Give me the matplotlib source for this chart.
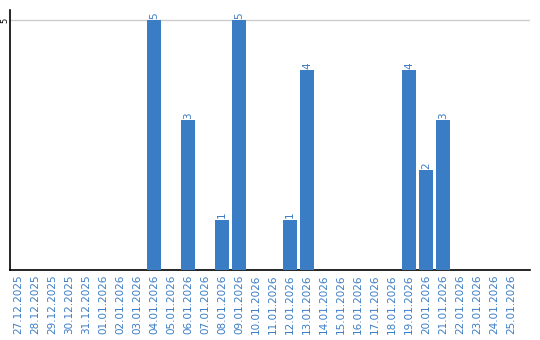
import matplotlib
matplotlib.use('Agg')
import matplotlib.pyplot as plt
import numpy as np

dates = ['27.12.2025', '28.12.2025', '29.12.2025', '30.12.2025', '31.12.2025',
         '01.01.2026', '02.01.2026', '03.01.2026', '04.01.2026', '05.01.2026',
         '06.01.2026', '07.01.2026', '08.01.2026', '09.01.2026', '10.01.2026',
         '11.01.2026', '12.01.2026', '13.01.2026', '14.01.2026', '15.01.2026',
         '16.01.2026', '17.01.2026', '18.01.2026', '19.01.2026', '20.01.2026',
         '21.01.2026', '22.01.2026', '23.01.2026', '24.01.2026', '25.01.2026']
counts = [0, 0, 0, 0, 0, 0, 0, 0, 5, 0, 3, 0, 1, 5, 0,
          0, 1, 4, 0, 0, 0, 0, 0, 4, 2, 3, 0, 0, 0, 0]

blue = '#3b7dc4'

fig = plt.figure(figsize=(5.4, 3.4), dpi=100)
ax = fig.add_axes([10 / 540, 70 / 340, 520 / 540, 260 / 340])

x = np.arange(len(dates))
ax.bar(x, counts, width=0.82, color=blue, zorder=3)

for xi, c in zip(x, counts):
    if c > 0:
        ax.text(xi, c + 0.03, str(c), rotation=90, ha='center', va='bottom',
                fontsize=7.5, color=blue)

ax.set_xlim(-0.47, 30.12)
ax.set_ylim(0, 5.2)
ax.set_xticks(x)
ax.set_xticklabels(dates, rotation=90, fontsize=7.5, color=blue)
ax.set_yticks([5])
ax.set_yticklabels(['5'], rotation=90, fontsize=6, va='center')
ax.tick_params(axis='both', length=0, pad=3)
ax.tick_params(axis='y', pad=0.5)
ax.grid(axis='y', color='#cccccc', linewidth=1, zorder=0)
ax.spines['top'].set_visible(False)
ax.spines['right'].set_visible(False)
ax.spines['left'].set_linewidth(1.2)
ax.spines['bottom'].set_linewidth(1.2)

plt.savefig('out.png', dpi=100)
